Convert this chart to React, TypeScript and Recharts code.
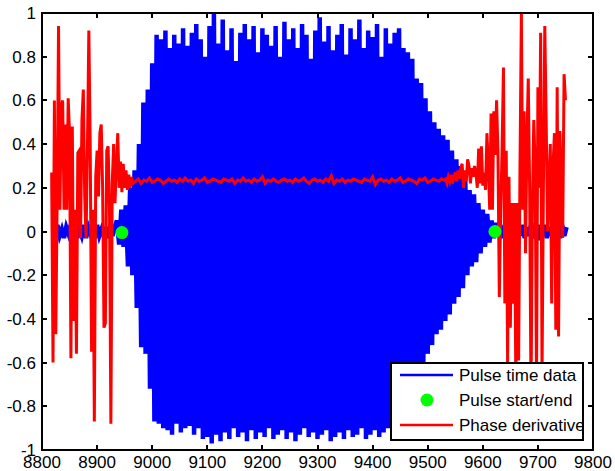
import { ComposedChart, Line, Scatter, XAxis, YAxis } from 'recharts';

// pulse samples, uniform spacing from BLUE_START
const BLUE_START = 8820;
const BLUE_STEP = 4;
const BLUE_VALUES = [
  // quiet lead-in
  0.02, -0.03, 0.03, -0.02, 0.01, -0.03, 0.02, -0.01, 0.03, -0.02,
  0.02, -0.03, 0.01, -0.02, 0.03, -0.03, 0.02, -0.01, 0.02, -0.03,
  0.03, -0.02, 0.01, -0.02, 0.02, -0.03, 0.03, -0.02, 0.02,
  // rise
  0.05, -0.06, 0.1, -0.07, 0.12, -0.16, 0.2, -0.2, 0.28, -0.35,
  0.4, -0.53, 0.59, -0.56, 0.65, -0.72, 0.77, -0.87, 0.9, -0.88,
  // body
  0.88, -0.9, 0.92, -0.91, 0.84, -0.93, 0.9, -0.88, 0.86, -0.92,
  0.93, -0.9, 0.85, -0.89, 0.91, -0.93, 0.95, -0.9, 0.88, -0.95,
  0.8, -0.94, 0.94, -0.97, 1.0, -0.93, 0.86, -0.96, 0.97, -0.92,
  0.83, -0.95, 0.93, -0.9, 0.78, -0.94, 0.91, -0.92, 0.95, -0.96,
  0.88, -0.91, 0.94, -0.95, 0.82, -0.92, 0.93, -0.94, 0.9, -0.9,
  0.85, -0.95, 0.94, -0.93, 0.8, -0.91, 0.96, -0.95, 0.88, -0.92,
  0.93, -0.96, 0.84, -0.93, 0.95, -0.9, 0.9, -0.94, 0.79, -0.92,
  0.92, -0.95, 0.98, -0.93, 0.87, -0.91, 0.94, -0.96, 0.83, -0.94,
  0.9, -0.92, 0.95, -0.95, 0.81, -0.91, 0.93, -0.94, 0.88, -0.93,
  0.97, -0.9, 0.84, -0.95, 0.92, -0.93, 0.89, -0.91, 0.95, -0.94,
  0.8, -0.92, 0.93, -0.9, 0.86, -0.93, 0.91, -0.89, 0.93,
  // decay
  -0.92, 0.84, -0.88, 0.82, -0.82, 0.79, -0.76, 0.7, -0.7, 0.68,
  -0.62, 0.61, -0.56, 0.55, -0.52, 0.5, -0.47, 0.47, -0.45, 0.44,
  -0.41, 0.42, -0.38, 0.37, -0.33, 0.33, -0.3, 0.3, -0.26, 0.25,
  -0.2, 0.19, -0.16, 0.17, -0.14, 0.13, -0.1, 0.1, -0.07, 0.08,
  -0.05, 0.05,
  // tail
  -0.03, 0.04, -0.02, 0.03, -0.03, 0.02, -0.04, 0.03, -0.02, 0.02,
  -0.03, 0.04, -0.02, 0.03, -0.03, 0.02, -0.02, 0.04, -0.03, 0.02,
  -0.04, 0.03, -0.02, 0.03, -0.03, 0.02, -0.02, 0.03, -0.04, 0.02,
  -0.03, 0.03, -0.02, 0.02,
];

// phase derivative, three stretches
const RED_LEFT_START = 8817.5;
const RED_LEFT_STEP = 2.5;
const RED_LEFT = [
  0.27, -0.6, 0.6, -0.47, 0.13, 0.94, 0.1, 0.57, 0.6, 0.1,
  0.49, 0.1, 0.61, 0.45, -0.58, 0.48, -0.41, 0.1, -0.56, 0.36,
  0.37, -0.03, 0.51, 0.65, 0.16, -0.03, 0.39, 0.92, 0.4, -0.55,
  0.1, -0.87, 0.25, 0.37, 0.16, 0.45, 0.49, 0.2, -0.44, -0.42,
  0.37, 0.39, 0.1, -0.88, 0.22, 0.4, 0.13, 0.3, 0.45, 0.2,
  0.32, 0.18, 0.31, 0.2, 0.28, 0.19, 0.26, 0.2, 0.25, 0.22,
];
const RED_MID_START = 8970;
const RED_MID_STEP = 5;
const RED_MID = [
  0.23, 0.24, 0.22, 0.235, 0.23, 0.245, 0.225, 0.23, 0.24, 0.235,
  0.22, 0.23, 0.24, 0.23, 0.235, 0.225, 0.24, 0.23, 0.245, 0.23,
  0.235, 0.22, 0.24, 0.23, 0.235, 0.245, 0.225, 0.23, 0.24, 0.235,
  0.23, 0.225, 0.24, 0.235, 0.23, 0.24, 0.22, 0.235, 0.23, 0.245,
  0.23, 0.235, 0.225, 0.24, 0.23, 0.235, 0.25, 0.22, 0.235, 0.23,
  0.24, 0.23, 0.225, 0.235, 0.24, 0.23, 0.235, 0.225, 0.24, 0.23,
  0.235, 0.245, 0.23, 0.22, 0.235, 0.24, 0.23, 0.235, 0.225, 0.24,
  0.23, 0.255, 0.22, 0.235, 0.23, 0.24, 0.225, 0.235, 0.23, 0.24,
  0.235, 0.23, 0.225, 0.24, 0.235, 0.23, 0.25, 0.215, 0.235, 0.24,
  0.23, 0.235, 0.225, 0.24, 0.23, 0.235, 0.245, 0.225, 0.23, 0.24,
  0.235, 0.23, 0.22, 0.24, 0.235, 0.245, 0.225, 0.23, 0.24, 0.235,
  0.23, 0.24, 0.235,
];
const RED_RIGHT_START = 9532.5;
const RED_RIGHT_STEP = 2.5;
const RED_RIGHT = [
  0.24, 0.22, 0.25, 0.23, 0.26, 0.22, 0.25, 0.27, 0.23, 0.28,
  0.24, 0.29, 0.31, 0.2, 0.28, 0.23, 0.33, 0.3, 0.22, 0.29,
  0.25, 0.3, 0.27, 0.2, 0.38, 0.22, 0.39, 0.21, 0.27, 0.19,
  0.45, 0.3, 0.1, 0.54, 0.1, 0.55, 0.35, 0.6, 0.36, -0.3,
  0.1, 0.37, 0.75, -0.33, 0.37, -0.6, 0.25, -0.44, 0.13, -0.33,
  0.13, -0.7, 0.13, -0.59, 0.3, 1.0, 0.1, 0.55, -0.1, 0.4,
  0.7, 0.2, -0.75, 0.1, 0.51, 0.3, -0.7, 0.66, 0.2, 0.91,
  -0.65, 0.2, 0.94, 0.51, 0.0, 0.2, 0.4, -0.33, 0.3, 0.45,
  -0.45, 0.66, -0.48, 0.46, 0.23, -0.03, 0.72, 0.6,
];

const GREEN_X = [8945, 9622];
const GREEN_Y = [-0.005, 0];

const X_DOMAIN = [8800, 9800];
const Y_DOMAIN = [-1, 1];
const X_TICKS = [8800, 8900, 9000, 9100, 9200, 9300, 9400, 9500, 9600, 9700, 9800];
const Y_TICKS = [-1, -0.8, -0.6, -0.4, -0.2, 0, 0.2, 0.4, 0.6, 0.8, 1];

const LEGEND_NAMES = ['Pulse time data', 'Pulse start/end', 'Phase derivative'];
const BLUE = '#0000ff';
const GREEN = '#00ff00';
const RED = '#ff0000';
const FONT = '"Liberation Sans", Arial, sans-serif';

const W = 615;
const H = 471;
// plot box, matlab style
const PLOT = { left: 42, top: 13, width: 551, height: 437 };
const TICK = 5;

const blueData = BLUE_VALUES.map((y, i) => ({ x: BLUE_START + i * BLUE_STEP, y }));
const redData = [
  ...RED_LEFT.map((y, i) => ({ x: RED_LEFT_START + i * RED_LEFT_STEP, y })),
  ...RED_MID.map((y, i) => ({ x: RED_MID_START + i * RED_MID_STEP, y })),
  ...RED_RIGHT.map((y, i) => ({ x: RED_RIGHT_START + i * RED_RIGHT_STEP, y })),
];
const greenData = GREEN_X.map((x, i) => ({ x, y: GREEN_Y[i] }));

const px = (v: number) => PLOT.left + ((v - X_DOMAIN[0]) / (X_DOMAIN[1] - X_DOMAIN[0])) * PLOT.width;
const py = (v: number) => PLOT.top + PLOT.height - ((v - Y_DOMAIN[0]) / (Y_DOMAIN[1] - Y_DOMAIN[0])) * PLOT.height;

const BottomTick = ({ x, y, payload }: any) => (
  <text x={x} y={y + 18} textAnchor="middle" fontSize={17} fontFamily={FONT} fill="#000">
    {payload.value}
  </text>
);

const LeftTick = ({ x, y, payload }: any) => (
  <text x={x - 6} y={y + 6} textAnchor="end" fontSize={17} fontFamily={FONT} fill="#000">
    {String(payload.value)}
  </text>
);

const Dot = ({ cx, cy }: any) => <circle cx={cx} cy={cy} r={6.5} fill={GREEN} />;

// small black strip as an html block, for the frame and ticks
const strip = (left: number, top: number, width: number, height: number, key: string) => (
  <div key={key} style={{ position: 'absolute', left, top, width, height, background: '#000' }} />
);

export default function App() {
  const bottom = PLOT.top + PLOT.height;
  const right = PLOT.left + PLOT.width;
  const frame = [
    strip(PLOT.left - 1, PLOT.top - 1, PLOT.width + 2, 2, 'ft'),
    strip(PLOT.left - 1, bottom - 1, PLOT.width + 2, 2, 'fb'),
    strip(PLOT.left - 1, PLOT.top - 1, 2, PLOT.height + 2, 'fl'),
    strip(right - 1, PLOT.top - 1, 2, PLOT.height + 2, 'fr'),
    ...X_TICKS.flatMap((t) => [
      strip(Math.round(px(t)) - 1, bottom - TICK, 2, TICK, `xb${t}`),
      strip(Math.round(px(t)) - 1, PLOT.top, 2, TICK, `xt${t}`),
    ]),
    ...Y_TICKS.flatMap((t) => [
      strip(PLOT.left, Math.round(py(t)) - 1, TICK, 2, `yl${t}`),
      strip(right - TICK, Math.round(py(t)) - 1, TICK, 2, `yr${t}`),
    ]),
  ];
  return (
    <div style={{ position: 'absolute', left: 0, top: 0, width: W, height: H, background: '#fff' }}>
      <ComposedChart
        width={W}
        height={H}
        margin={{ top: PLOT.top, right: W - right, bottom: 0, left: 0 }}
      >
        <XAxis
          dataKey="x"
          type="number"
          domain={X_DOMAIN}
          ticks={X_TICKS}
          height={H - bottom}
          tickSize={0}
          tickMargin={0}
          axisLine={false}
          tickLine={false}
          tick={<BottomTick />}
          interval={0}
        />
        <YAxis
          dataKey="y"
          type="number"
          domain={Y_DOMAIN}
          ticks={Y_TICKS}
          width={PLOT.left}
          tickSize={0}
          tickMargin={0}
          axisLine={false}
          tickLine={false}
          tick={<LeftTick />}
          interval={0}
        />
        <Line
          data={blueData}
          dataKey="y"
          stroke={BLUE}
          strokeWidth={4.5}
          dot={false}
          activeDot={false}
          isAnimationActive={false}
        />
        <Scatter data={greenData} dataKey="y" fill={GREEN} shape={<Dot />} isAnimationActive={false} />
        <Line
          data={redData}
          dataKey="y"
          stroke={RED}
          strokeWidth={3}
          dot={false}
          activeDot={false}
          isAnimationActive={false}
        />
      </ComposedChart>
      {frame}
      <svg width={W} height={H} style={{ position: 'absolute', left: 0, top: 0, pointerEvents: 'none' }}>
        <defs>
          <clipPath id="legclip">
            <rect x={392} y={364} width={190} height={75} />
          </clipPath>
        </defs>
        <rect x={391} y={363} width={192} height={77} fill="#fff" stroke="#000" strokeWidth={2} />
        <g clipPath="url(#legclip)" fontFamily={FONT} fontSize={17} fill="#000">
          <line x1={400} y1={375} x2={453} y2={375} stroke={BLUE} strokeWidth={2.5} />
          <text x={459} y={381}>{LEGEND_NAMES[0]}</text>
          <circle cx={427} cy={400} r={6.5} fill={GREEN} />
          <text x={459} y={406}>{LEGEND_NAMES[1]}</text>
          <line x1={400} y1={425} x2={453} y2={425} stroke={RED} strokeWidth={2.5} />
          <text x={459} y={431}>{LEGEND_NAMES[2]}</text>
        </g>
      </svg>
    </div>
  );
}
